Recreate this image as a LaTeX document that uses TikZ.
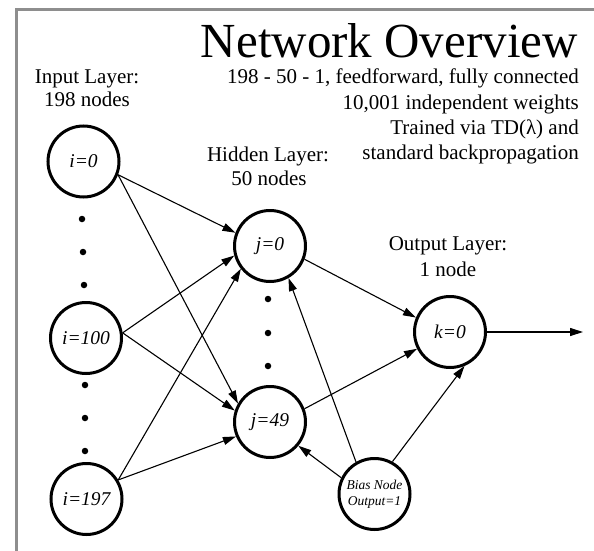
\documentclass[tikz,border=0pt]{standalone}
\usepackage{fontspec}
\setmainfont{Liberation Serif}
\usetikzlibrary{arrows.meta}
\definecolor{framegray}{HTML}{8E8E8E}
\tikzset{
  neuron/.style={circle, draw=black, line width=3pt, minimum size=71pt, inner sep=0pt, font=\fontsize{19.5}{22}\selectfont\itshape},
  biasnode/.style={neuron, font=\fontsize{13.5}{16}\selectfont\itshape, align=center},
  conn/.style={line width=1.1pt, -{Triangle[length=13pt,width=8pt]}},
  lbl/.style={anchor=base, inner sep=0pt, font=\fontsize{21}{24}\selectfont},
  rlbl/.style={anchor=base east, inner sep=0pt, font=\fontsize{21}{24}\selectfont},
  dotmark/.style={circle, fill=black, minimum size=6.5pt, inner sep=0pt}
}
\begin{document}
\begin{tikzpicture}[x=1pt, y=-1pt]
\useasboundingbox (0,0) rectangle (594,551);
\fill[white] (0,0) rectangle (594,551);
\draw[framegray, line width=3pt] (16.5,551) -- (16.5,9.5) -- (594,9.5);

% title and description
\node[rlbl, font=\fontsize{49}{52}\selectfont] (title) at (578,58) {Network Overview};
\node[rlbl] (d1) at (579,83) {198 - 50 - 1, feedforward, fully connected};
\node[rlbl] (d2) at (579,109) {10,001 independent weights};
\node[rlbl] (d3) at (579,134) {Trained via TD(λ) and};
\node[rlbl] (d4) at (579,159) {standard backpropagation};

% layer labels
\node[lbl] (inA) at (87,83) {Input Layer:};
\node[lbl] (inB) at (87,106) {198 nodes};
\node[lbl] (hidA) at (268,161) {Hidden Layer:};
\node[lbl] (hidB) at (269,185) {50 nodes};
\node[lbl] (outA) at (448,250) {Output Layer:};
\node[lbl] (outB) at (448,276) {1 node};

% neurons
\node[neuron] (i0) at (83.5,161.5) {i=0};
\node[neuron] (i100) at (86,338) {i=100};
\node[neuron] (i197) at (86.5,499) {i=197};
\node[neuron] (j0) at (270,246) {j=0};
\node[neuron] (j49) at (270,422) {j=49};
\node[neuron] (k0) at (450,332) {k=0};
\node[biasnode] (bias) at (374.5,494) {Bias Node\\Output=1};
\coordinate (out) at (583,332);

% ellipsis dots
\node[dotmark] (da1) at (82,219) {};
\node[dotmark] (da2) at (83,252) {};
\node[dotmark] (da3) at (84,285) {};
\node[dotmark] (db1) at (85,385) {};
\node[dotmark] (db2) at (85,418) {};
\node[dotmark] (db3) at (85,451) {};
\node[dotmark] (dc1) at (268,299) {};
\node[dotmark] (dc2) at (268,333) {};
\node[dotmark] (dc3) at (268,366) {};

% connections
\draw[conn] (i0.-21) -- (j0.159);
\draw[conn] (i0.-21) -- (j49.150);
\draw[conn] (i100.8) -- (j0.195);
\draw[conn] (i100.8) -- (j49.162);
\draw[conn] (i197.31) -- (j0.218);
\draw[conn] (i197.31) -- (j49.203);
\draw[conn] (j0.-21) -- (k0.157);
\draw[conn] (j49.21) -- (k0.207);
\draw[conn] (bias.120) -- (j0.-60);
\draw[conn] (bias.154) -- (j49.-40);
\draw[conn] (bias.61) -- (k0.-67);
\draw[conn] (k0.east) -- (out);
\end{tikzpicture}
\end{document}
